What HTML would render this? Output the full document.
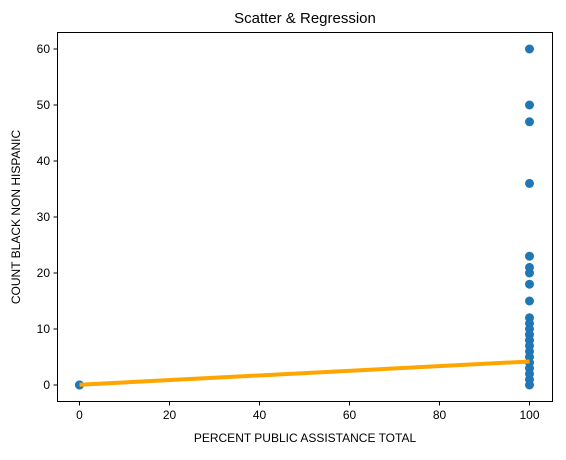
<!DOCTYPE html>
<html><head><meta charset="utf-8"><style>
body{margin:0;background:#fff;font-family:"Liberation Sans","DejaVu Sans",sans-serif;}
</style></head><body>
<svg width="566" height="455" xmlns="http://www.w3.org/2000/svg">
<text x="305" y="23" font-size="15" text-anchor="middle">Scatter &amp; Regression</text>
<g id="plot"></g>
<rect x="57.5" y="32.5" width="495" height="369" fill="none" stroke="#000" stroke-width="1"/>
<text x="305" y="442" font-size="12" text-anchor="middle">PERCENT PUBLIC ASSISTANCE TOTAL</text>
<text x="20" y="217" font-size="12" text-anchor="middle" transform="rotate(-90 20 217)">COUNT BLACK NON HISPANIC</text>
</svg>
<script>
const xs=[0,0,100,100,100,100,100,100,100,100,100,100,100,100,100,100,100,100,100,100,100,100,100,100];
const ys=[0,0,60,50,47,36,23,21,20,18,15,12,11,10,9,8,7,6,5,4,3,2,1,0];
const xTicks=[0,20,40,60,80,100];
const yTicks=[0,10,20,30,40,50,60];
const regX=[0,100];
const regY=[0.05,4.2];
const sx=v=>79.5+v*4.5;
const sy=v=>385-v*5.6;
const NS="http://www.w3.org/2000/svg";
const g=document.getElementById('plot');
function el(t,a){const e=document.createElementNS(NS,t);for(const k in a)e.setAttribute(k,a[k]);g.appendChild(e);return e;}
xTicks.forEach(t=>{
 const l=el('line',{x1:sx(t),x2:sx(t),y1:401.5,y2:405.5,stroke:'#000'});
 
 
 const tx=el('text',{x:sx(t),y:419,'font-size':12,'text-anchor':'middle'});tx.textContent=t;
 
 
});
yTicks.forEach(t=>{
 const l=el('line',{x1:53.5,x2:57.5,y1:sy(t),y2:sy(t),stroke:'#000'});
 
 
 const tx=el('text',{x:50,y:sy(t)+4,'font-size':12,'text-anchor':'end'});tx.textContent=t;
 
 
});
xs.forEach((x,i)=>{
 const c=el('circle',{cx:sx(x),cy:sy(ys[i]),r:4.5,fill:'#1f77b4'});
 
 
});
const rl=el('line',{x1:sx(regX[0]),y1:sy(regY[0]),x2:sx(regX[1]),y2:sy(regY[1]),stroke:'#ffa500','stroke-width':4});


</script>
</body></html>
